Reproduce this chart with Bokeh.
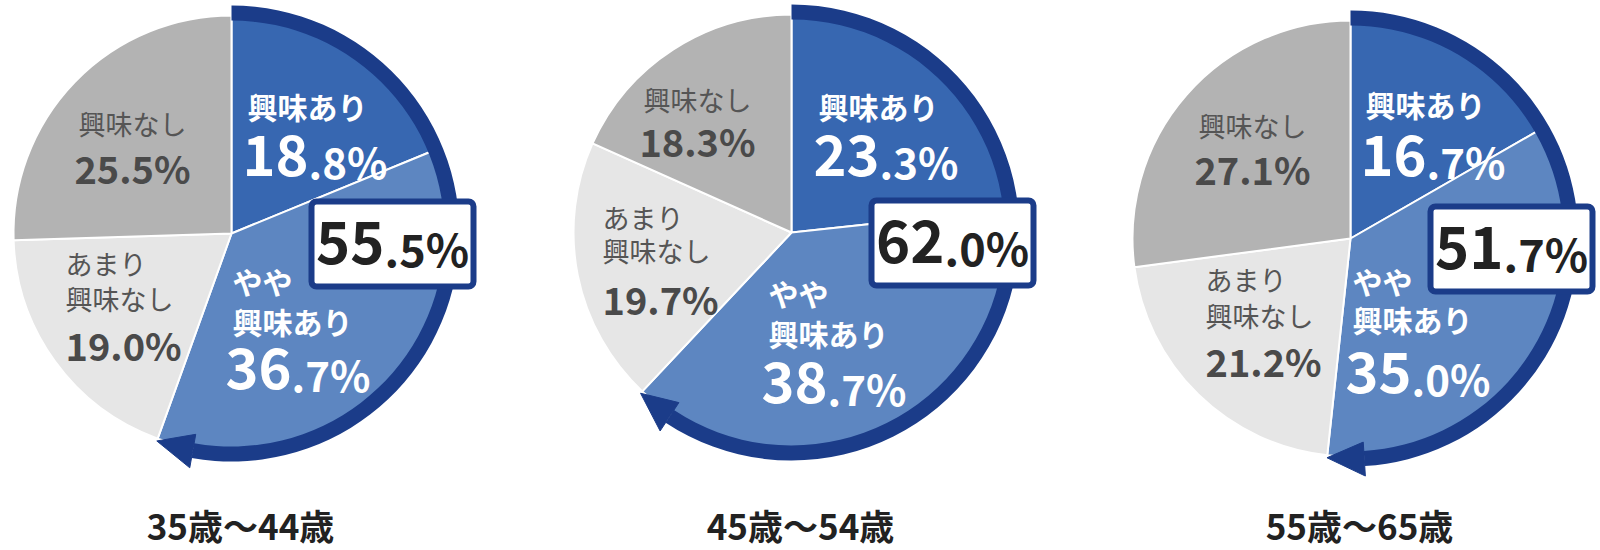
import math

from bokeh.plotting import figure
from bokeh.models import Range1d, ColumnDataSource
from bokeh.core.properties import value
from bokeh.embed import file_html
from bokeh.resources import INLINE

# データ（年代別の関心度, %）
ages = ["35歳〜44歳", "45歳〜54歳", "55歳〜65歳"]
categories = ["興味あり", "やや興味あり", "あまり興味なし", "興味なし"]
interested = [18.8, 23.3, 16.7]
somewhat = [36.7, 38.7, 35.0]
not_much = [19.0, 19.7, 21.2]
not_interested = [25.5, 18.3, 27.1]

colors = ["#3767b1", "#5d86c1", "#e6e6e6", "#b3b3b3"]
navy = "#1b3c89"
FONT = "Noto Sans CJK JP"

W, H = 1600, 550

# レイアウト（画像上の座標, y は下向き）
centers = [(231, 233), (791, 232), (1350, 238)]
R = 218
RING_IN, RING_OUT = 213, 228
ARROW_ANG = math.radians(9.7)

# 各円のラベル位置: (x, baseline)
pos_top_lab = [(247, 116), (818, 116), (1365, 114)]
pos_top_num = [(249, 175), (820, 175), (1367, 175)]
pos_none_lab = [(132, 133), (697, 109), (1252, 135)]
pos_none_num = [(132, 181), (697, 154), (1252, 182)]
pos_amari = [(65, 273, 308, 358), (602, 227, 260, 312), (1205, 289, 325, 374)]
pos_yaya = [(232, 291, 331, 388), (768, 303, 343, 402), (1352, 291, 329, 392)]

BASE_K = 0.36  # 描画時のベースライン補正（em）


def Y(v):
    return H - v


p = figure(width=W, height=H, x_range=Range1d(0, W), y_range=Range1d(0, H),
           output_backend="svg", toolbar_location=None, min_border=0,
           x_axis_location=None, y_axis_location=None, outline_line_color=None,
           background_fill_color="white", border_fill_color="white")
p.grid.visible = False
p.title.visible = False


def txt(x, y, s, size, color, bold=True, align="left"):
    px = float(size.replace("px", ""))
    p.text(x=[x], y=[Y(y - BASE_K * px)], text=[s], text_font=value(FONT), text_font_size=value(size),
           text_font_style="bold" if bold else "normal", text_color=color,
           text_align=align, text_baseline="alphabetic")


def split_num(x, y, v, big, small, color, gap):
    # 整数部を大きく、小数部と%を小さく
    s = "%.1f" % v
    a, b = s.split(".")
    txt(x + gap, y, a, big, color, align="right")
    txt(x + gap, y, "." + b + "%", small, color)


for i in range(3):
    cx, cy = centers[i]
    vals = [interested[i], somewhat[i], not_much[i], not_interested[i]]
    starts, ends = [], []
    c = 0.0
    for v in vals:
        starts.append(math.pi / 2 - c / 100 * 2 * math.pi)
        c += v
        ends.append(math.pi / 2 - c / 100 * 2 * math.pi)
    src = ColumnDataSource(dict(x=[cx] * 4, y=[Y(cy)] * 4, start=starts, end=ends,
                                color=colors, cat=categories))
    p.wedge(x="x", y="y", radius=R, start_angle="start", end_angle="end", direction="clock",
            fill_color="color", line_color="white", line_width=2, source=src)

    # 興味あり＋やや興味あり の矢印
    total = interested[i] + somewhat[i]
    te = total / 100 * 2 * math.pi
    p.annular_wedge(x=[cx], y=[Y(cy)], inner_radius=RING_IN, outer_radius=RING_OUT,
                    start_angle=math.pi / 2, end_angle=math.pi / 2 - (te - ARROW_ANG),
                    direction="clock", fill_color=navy, line_color=None)
    tb = te - ARROW_ANG
    rm = (RING_IN + RING_OUT) / 2
    ax = [cx + rm * math.sin(te), cx + 204 * math.sin(tb), cx + 238 * math.sin(tb)]
    ay = [Y(cy) + rm * math.cos(te), Y(cy) + 204 * math.cos(tb), Y(cy) + 238 * math.cos(tb)]
    p.patch(ax, ay, fill_color=navy, line_color=navy, line_width=1)

    # 興味あり
    x, y = pos_top_lab[i]
    txt(x, y, "興味あり", "30px", "white")
    x, y = pos_top_num[i]
    split_num(x, y, interested[i], "56px", "42px", "white", 59)

    # 興味なし
    x, y = pos_none_lab[i]
    txt(x, y, "興味なし", "27px", "#555555", bold=False, align="center")
    x, y = pos_none_num[i]
    txt(x, y, "%.1f%%" % not_interested[i], "38px", "#4a4a4a", align="center")

    # あまり興味なし
    x, y1, y2, y3 = pos_amari[i]
    txt(x, y1, "あまり", "27px", "#555555", bold=False)
    txt(x, y2, "興味なし", "27px", "#555555", bold=False)
    txt(x, y3, "%.1f%%" % not_much[i], "38px", "#4a4a4a")

    # やや興味あり
    x, y1, y2, y3 = pos_yaya[i]
    txt(x, y1, "やや", "30px", "white")
    txt(x, y2, "興味あり", "30px", "white")
    split_num(x, y3, somewhat[i], "56px", "42px", "white", 59)

    # 合計ボックス
    bl, br = cx + 77, cx + 245
    bt, bb = cy - 35, cy + 56
    p.quad(left=[bl + 3], right=[br - 3], top=[Y(bt + 3)], bottom=[Y(bb - 3)],
           fill_color="white", line_color=navy, line_width=6, border_radius=5)
    split_num(bl, cy + 30, total, "58px", "45px", "#222222", 76)

    # 年代タイトル
    txt(cx + 9, 537, ages[i], "35px", "#222222", align="center")

open("out.html", "w").write(file_html(p, INLINE))
